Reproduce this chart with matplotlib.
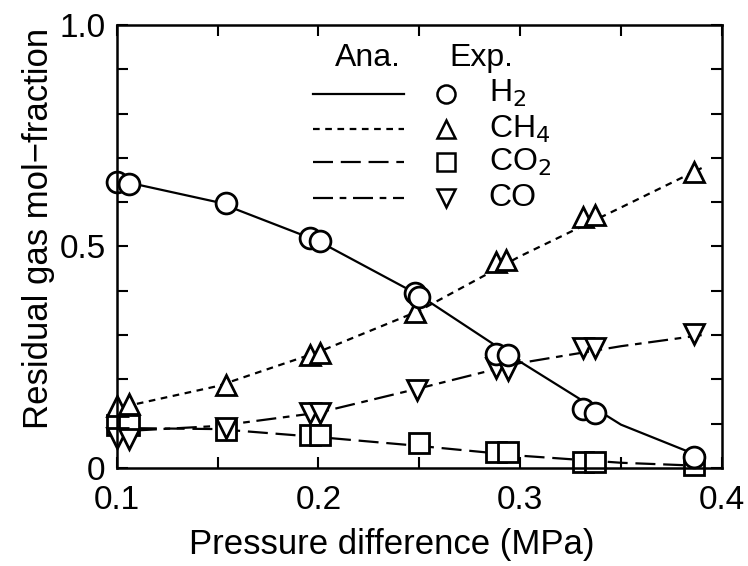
import numpy as np
import matplotlib.pyplot as plt
from matplotlib.ticker import MultipleLocator, FixedLocator

plt.rcParams["font.family"] = ["Liberation Sans", "DejaVu Sans"]

# experimental data
h2_x = [0.100, 0.106, 0.154, 0.196, 0.201, 0.248, 0.250, 0.288, 0.294, 0.331, 0.337, 0.386]
h2_y = [0.645, 0.640, 0.598, 0.520, 0.512, 0.395, 0.385, 0.258, 0.255, 0.133, 0.125, 0.025]

ch4_x = [0.100, 0.106, 0.154, 0.196, 0.201, 0.248, 0.288, 0.293, 0.331, 0.337, 0.386]
ch4_y = [0.140, 0.145, 0.188, 0.255, 0.260, 0.352, 0.465, 0.470, 0.567, 0.570, 0.668]

co2_x = [0.100, 0.106, 0.154, 0.196, 0.201, 0.250, 0.288, 0.294, 0.331, 0.337, 0.386]
co2_y = [0.097, 0.097, 0.086, 0.075, 0.075, 0.056, 0.036, 0.036, 0.014, 0.014, 0.008]

co_x = [0.100, 0.106, 0.154, 0.196, 0.201, 0.249, 0.288, 0.294, 0.331, 0.337, 0.386]
co_y = [0.068, 0.065, 0.090, 0.124, 0.124, 0.176, 0.225, 0.222, 0.272, 0.272, 0.302]

# analytical curves
ana_x = [0.11, 0.15, 0.20, 0.25, 0.30, 0.35, 0.39]
ana_h2 = [0.640, 0.600, 0.512, 0.390, 0.240, 0.098, 0.025]
ana_ch4 = [0.145, 0.185, 0.262, 0.355, 0.478, 0.588, 0.677]
ana_co2 = [0.090, 0.088, 0.070, 0.050, 0.028, 0.012, 0.005]
ana_co = [0.085, 0.095, 0.125, 0.180, 0.237, 0.275, 0.300]

fig = plt.figure(figsize=(7.48, 5.66), dpi=100)
ax = fig.add_axes([0.156, 0.173, 0.809, 0.783])

lw = 1.6
ax.plot(ana_x, ana_h2, color="black", lw=lw, ls="-")
ax.plot(ana_x, ana_ch4, color="black", lw=lw, ls=(0, (3, 2.5)))
ax.plot(ana_x, ana_co2, color="black", lw=lw, ls=(0, (9, 3.5)))
ax.plot(ana_x, ana_co, color="black", lw=lw, ls=(0, (9, 3, 3, 3)))

mk = dict(ls="none", mfc="white", mec="black", mew=2.0, ms=15, clip_on=False)
ax.plot(co2_x, co2_y, marker="s", **mk)
ax.plot(co_x, co_y, marker="v", **mk)
ax.plot(ch4_x, ch4_y, marker="^", **mk)
ax.plot(h2_x, h2_y, marker="o", **mk)

ax.set_xlim(0.1, 0.4)
ax.set_ylim(0, 1.0)
ax.xaxis.set_major_locator(FixedLocator([0.1, 0.2, 0.3, 0.4]))
ax.xaxis.set_minor_locator(MultipleLocator(0.05))
ax.yaxis.set_major_locator(FixedLocator([0, 0.5, 1.0]))
ax.yaxis.set_minor_locator(MultipleLocator(0.1))
ax.set_xticklabels(["0.1", "0.2", "0.3", "0.4"])
ax.set_yticklabels(["0", "0.5", "1.0"])
ax.tick_params(which="both", direction="in", top=True, right=True,
               length=8, width=1.5, labelsize=24)
ax.tick_params(axis="x", pad=12)
ax.tick_params(axis="y", pad=8)
for s in ax.spines.values():
    s.set_linewidth(1.8)

ax.set_xlabel("Pressure difference (MPa)", fontsize=25)
ax.xaxis.set_label_coords(0.455, -0.135)
ax.set_ylabel("Residual gas mol\u2212fraction", fontsize=25)
ax.yaxis.set_label_coords(-0.102, 0.54)

# custom legend
ax.text(0.415, 0.925, "Ana.", fontsize=23, transform=ax.transAxes,
        ha="center", va="center")
ax.text(0.550, 0.925, "Exp.", fontsize=23, transform=ax.transAxes,
        ha="left", va="center")
names = ["H$_2$", "CH$_4$", "CO$_2$", "CO"]
styles = ["-", (0, (3, 2.5)), (0, (9, 3.5)), (0, (9, 3, 3, 3))]
markers = ["o", "^", "s", "v"]
rows = [0.845, 0.765, 0.69, 0.61]
for name, st, m, yy in zip(names, styles, markers, rows):
    ax.plot([0.325, 0.475], [yy, yy], color="black", lw=lw, ls=st,
            transform=ax.transAxes)
    ax.plot([0.545], [yy], marker=m, ls="none", mfc="white", mec="black",
            mew=1.8, ms=13, transform=ax.transAxes)
    ax.text(0.615, yy, name, fontsize=23, transform=ax.transAxes,
            ha="left", va="center")

fig.savefig("out.png", dpi=100)
